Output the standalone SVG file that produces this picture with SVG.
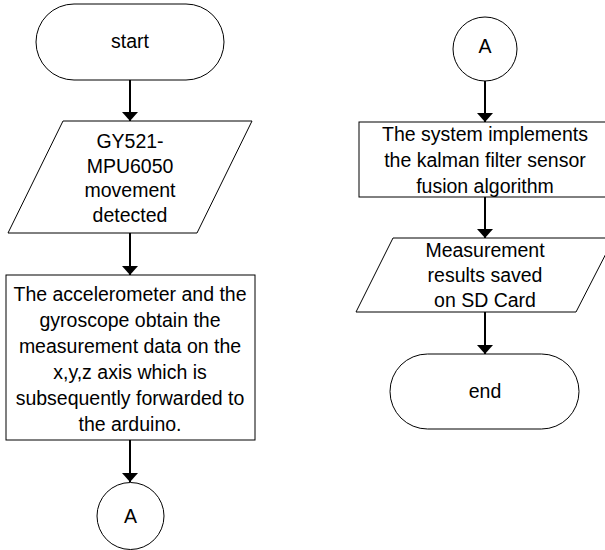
<svg xmlns="http://www.w3.org/2000/svg" width="605" height="550" viewBox="0 0 605 550">
  <style>
    .shape { fill: #ffffff; stroke: #000000; stroke-width: 1; }
    .label { font-family: "Liberation Sans", Arial, sans-serif; font-size: 19.5px; fill: #000000; text-anchor: middle; }
    .flow { fill: none; stroke: #000000; stroke-width: 2; marker-end: url(#arrow); }
  </style>
  <defs>
    <marker id="arrow" viewBox="0 0 9 16" refX="9" refY="8" markerWidth="9" markerHeight="16" markerUnits="userSpaceOnUse" orient="auto">
      <path d="M0,0 L9,8 L0,16 Z" fill="#000000"/>
    </marker>
  </defs>
  <rect width="605" height="550" fill="#ffffff"/>

  <!-- connectors -->
  <g id="connectors">
    <line class="flow" x1="130" y1="80" x2="130" y2="121"/>
    <line class="flow" x1="130" y1="233" x2="130" y2="275"/>
    <line class="flow" x1="130" y1="440" x2="130" y2="482"/>
    <line class="flow" x1="485" y1="81" x2="485" y2="122"/>
    <line class="flow" x1="485" y1="197" x2="485" y2="238"/>
    <line class="flow" x1="485" y1="312" x2="485" y2="354"/>
  </g>

  <!-- left column -->
  <g id="start">
    <rect class="shape" x="36" y="4" width="188" height="76" rx="38" ry="38"/>
    <text class="label" x="130" y="48">start</text>
  </g>
  <g id="movement">
    <polygon class="shape" points="63,121 252,121 197,233 8,233"/>
    <text class="label" x="130" y="148">GY521-</text>
    <text class="label" x="130" y="173">MPU6050</text>
    <text class="label" x="130" y="197">movement</text>
    <text class="label" x="130" y="222">detected</text>
  </g>
  <g id="measure">
    <rect class="shape" x="6" y="275" width="249" height="165"/>
    <text class="label" x="130" y="301">The accelerometer and the</text>
    <text class="label" x="130" y="327">gyroscope obtain the</text>
    <text class="label" x="130" y="353">measurement data on the</text>
    <text class="label" x="130" y="379">x,y,z axis which is</text>
    <text class="label" x="130" y="405">subsequently forwarded to</text>
    <text class="label" x="130" y="431">the arduino.</text>
  </g>
  <g id="connector-a-out">
    <circle class="shape" cx="130.5" cy="516" r="33.5"/>
    <text class="label" x="130.5" y="523">A</text>
  </g>

  <!-- right column -->
  <g id="connector-a-in">
    <circle class="shape" cx="485" cy="49" r="32"/>
    <text class="label" x="485" y="53">A</text>
  </g>
  <g id="kalman">
    <rect class="shape" x="359" y="122" width="252" height="75"/>
    <text class="label" x="485" y="141">The system implements</text>
    <text class="label" x="485" y="167">the kalman filter sensor</text>
    <text class="label" x="485" y="193">fusion algorithm</text>
  </g>
  <g id="save">
    <polygon class="shape" points="393,238 614,238 576,312 356,312"/>
    <text class="label" x="485" y="257">Measurement</text>
    <text class="label" x="485" y="282">results saved</text>
    <text class="label" x="485" y="307">on SD Card</text>
  </g>
  <g id="end">
    <rect class="shape" x="390" y="354" width="189" height="75" rx="37.5" ry="37.5"/>
    <text class="label" x="485" y="398">end</text>
  </g>
</svg>
